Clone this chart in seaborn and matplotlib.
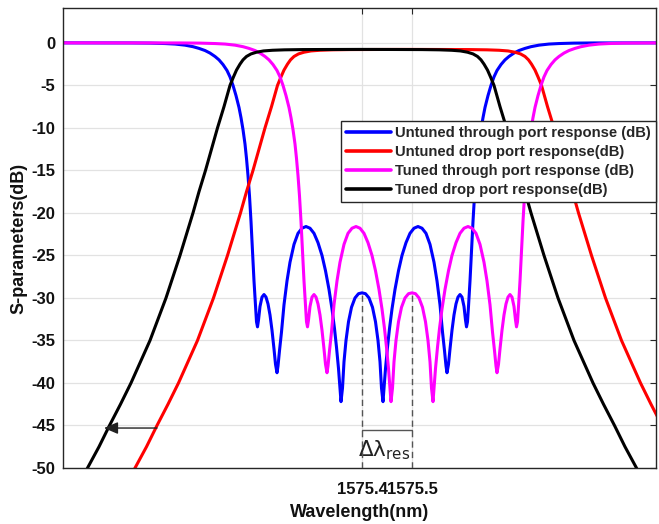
import matplotlib
matplotlib.use("Agg")
import matplotlib.pyplot as plt
import seaborn as sns
import numpy as np

# ---------------- data ----------------
# Through-port response (dB), same shape for untuned and tuned through ports
through_db = [
    0.0, 0.0, -0.01, -0.03, -0.08, -0.14, -0.27, -0.45, -0.65, -0.9,
    -1.2, -1.6, -2.0, -2.55, -3.25, -4.0, -5.0, -6.2, -7.6, -8.8,
    -10.2, -11.9, -13.6, -15.6, -18.0, -21.0, -24.5, -28.0, -31.0, -32.8,
    -33.4, -32.6, -31.0, -29.9, -29.6, -29.9, -30.7, -32.0, -33.8, -36.0,
    -37.8, -38.8, -38.0, -36.2, -34.0, -30.8, -28.0, -25.8, -23.7, -22.4,
    -21.8, -21.6, -21.8, -22.4, -23.5, -25.0, -26.8, -29.0, -31.3, -33.6,
    -35.8, -38.3, -40.6, -42.2, -40.6, -37.5, -35.0, -32.8, -31.1, -30.0,
    -29.5,
    -29.4,
    -29.5, -30.0, -31.1, -32.8, -35.0, -37.5, -40.6, -42.2, -40.6, -38.3,
    -35.8, -33.6, -31.3, -29.0, -26.8, -25.0, -23.5, -22.4, -21.8, -21.6,
    -21.8, -22.4, -23.7, -25.8, -28.0, -30.8, -34.0, -36.2, -38.0, -38.8,
    -37.8, -36.0, -33.8, -32.0, -30.7, -29.9, -29.6, -29.9, -31.0, -32.6,
    -33.4, -32.8, -31.0, -28.0, -24.5, -21.0, -18.0, -15.6, -13.6, -11.9,
    -10.2, -8.8, -7.6, -6.2, -5.0, -4.0, -3.25, -2.55, -2.0, -1.6,
    -1.2, -0.9, -0.65, -0.45, -0.27, -0.14, -0.08, -0.03, -0.01, 0.0,
    0.0,
]
wl_untuned_through = [
    1574.802, 1574.876, 1574.936, 1574.976, 1575.006, 1575.026, 1575.046, 1575.062, 1575.074, 1575.086,
    1575.096, 1575.106, 1575.114, 1575.122, 1575.130, 1575.136, 1575.142, 1575.148, 1575.154, 1575.158,
    1575.162, 1575.166, 1575.169, 1575.172, 1575.175, 1575.178, 1575.181, 1575.184, 1575.187, 1575.189,
    1575.191, 1575.193, 1575.196, 1575.200, 1575.204, 1575.208, 1575.212, 1575.216, 1575.220, 1575.224,
    1575.227, 1575.230, 1575.232, 1575.235, 1575.239, 1575.244, 1575.250, 1575.256, 1575.264, 1575.272,
    1575.280, 1575.288, 1575.296, 1575.304, 1575.312, 1575.320, 1575.327, 1575.334, 1575.340, 1575.345,
    1575.349, 1575.353, 1575.356, 1575.358, 1575.361, 1575.364, 1575.368, 1575.373, 1575.379, 1575.386,
    1575.393,
    1575.400,
    1575.407, 1575.414, 1575.421, 1575.427, 1575.432, 1575.436, 1575.439, 1575.442, 1575.444, 1575.447,
    1575.451, 1575.455, 1575.460, 1575.466, 1575.473, 1575.480, 1575.488, 1575.496, 1575.504, 1575.512,
    1575.520, 1575.528, 1575.536, 1575.544, 1575.550, 1575.556, 1575.561, 1575.565, 1575.568, 1575.570,
    1575.573, 1575.576, 1575.580, 1575.584, 1575.588, 1575.592, 1575.596, 1575.600, 1575.604, 1575.607,
    1575.609, 1575.611, 1575.613, 1575.616, 1575.619, 1575.622, 1575.625, 1575.628, 1575.631, 1575.634,
    1575.638, 1575.642, 1575.646, 1575.652, 1575.658, 1575.664, 1575.670, 1575.678, 1575.686, 1575.694,
    1575.704, 1575.714, 1575.726, 1575.738, 1575.754, 1575.774, 1575.794, 1575.824, 1575.864, 1575.924,
    1575.998,
]
wl_tuned_through = [
    1574.802, 1574.976, 1575.036, 1575.076, 1575.106, 1575.126, 1575.146, 1575.162, 1575.174, 1575.186,
    1575.196, 1575.206, 1575.214, 1575.222, 1575.230, 1575.236, 1575.242, 1575.248, 1575.254, 1575.258,
    1575.262, 1575.266, 1575.269, 1575.272, 1575.275, 1575.278, 1575.281, 1575.284, 1575.287, 1575.289,
    1575.291, 1575.293, 1575.296, 1575.300, 1575.304, 1575.308, 1575.312, 1575.316, 1575.320, 1575.324,
    1575.327, 1575.330, 1575.332, 1575.335, 1575.339, 1575.344, 1575.350, 1575.356, 1575.364, 1575.372,
    1575.380, 1575.388, 1575.396, 1575.404, 1575.412, 1575.420, 1575.427, 1575.434, 1575.440, 1575.445,
    1575.449, 1575.453, 1575.456, 1575.458, 1575.461, 1575.464, 1575.468, 1575.473, 1575.479, 1575.486,
    1575.493,
    1575.500,
    1575.507, 1575.514, 1575.521, 1575.527, 1575.532, 1575.536, 1575.539, 1575.542, 1575.544, 1575.547,
    1575.551, 1575.555, 1575.560, 1575.566, 1575.573, 1575.580, 1575.588, 1575.596, 1575.604, 1575.612,
    1575.620, 1575.628, 1575.636, 1575.644, 1575.650, 1575.656, 1575.661, 1575.665, 1575.668, 1575.670,
    1575.673, 1575.676, 1575.680, 1575.684, 1575.688, 1575.692, 1575.696, 1575.700, 1575.704, 1575.707,
    1575.709, 1575.711, 1575.713, 1575.716, 1575.719, 1575.722, 1575.725, 1575.728, 1575.731, 1575.734,
    1575.738, 1575.742, 1575.746, 1575.752, 1575.758, 1575.764, 1575.770, 1575.778, 1575.786, 1575.794,
    1575.804, 1575.814, 1575.826, 1575.838, 1575.854, 1575.874, 1575.894, 1575.924, 1575.964, 1576.024,
    1576.098,
]

# Drop-port response (dB), same shape for untuned and tuned drop ports
drop_db = [
    -52.5, -50.0, -47.5, -45.0, -42.5, -40.0, -37.5, -35.0, -32.5, -30.0,
    -27.5, -25.0, -22.5, -20.0, -17.5, -15.0, -12.5, -10.0, -7.5, -5.0,
    -4.0, -3.2, -2.5, -2.0, -1.6, -1.3, -1.1, -0.95, -0.87, -0.82,
    -0.79, -0.78,
    -0.77,
    -0.78, -0.79,
    -0.82, -0.87, -0.95, -1.1, -1.3, -1.6, -2.0, -2.5, -3.2, -4.0,
    -5.0, -7.5, -10.0, -12.5, -15.0, -17.5, -20.0, -22.5, -25.0, -27.5,
    -30.0, -32.5, -35.0, -37.5, -40.0, -42.5, -45.0, -47.5, -50.0, -52.5,
]
wl_untuned_drop = [
    1574.924, 1574.946, 1574.969, 1574.990, 1575.012, 1575.033, 1575.052, 1575.071, 1575.087, 1575.103,
    1575.117, 1575.131, 1575.144, 1575.157, 1575.169, 1575.182, 1575.194, 1575.206, 1575.219, 1575.231,
    1575.238, 1575.244, 1575.251, 1575.257, 1575.264, 1575.273, 1575.284, 1575.298, 1575.316, 1575.340,
    1575.376, 1575.426,
    1575.495,
    1575.564, 1575.614,
    1575.650, 1575.674, 1575.692, 1575.706, 1575.717, 1575.726, 1575.733, 1575.739, 1575.746, 1575.752,
    1575.759, 1575.771, 1575.784, 1575.796, 1575.808, 1575.821, 1575.833, 1575.846, 1575.859, 1575.873,
    1575.887, 1575.903, 1575.919, 1575.938, 1575.957, 1575.978, 1576.000, 1576.021, 1576.044, 1576.066,
]
wl_tuned_drop = [
    1574.829, 1574.851, 1574.874, 1574.895, 1574.917, 1574.938, 1574.957, 1574.976, 1574.992, 1575.008,
    1575.022, 1575.036, 1575.049, 1575.062, 1575.074, 1575.087, 1575.099, 1575.111, 1575.124, 1575.136,
    1575.143, 1575.149, 1575.156, 1575.162, 1575.169, 1575.178, 1575.189, 1575.203, 1575.221, 1575.245,
    1575.281, 1575.331,
    1575.400,
    1575.469, 1575.519,
    1575.555, 1575.579, 1575.597, 1575.611, 1575.622, 1575.631, 1575.638, 1575.644, 1575.651, 1575.657,
    1575.664, 1575.676, 1575.689, 1575.701, 1575.713, 1575.726, 1575.738, 1575.751, 1575.764, 1575.778,
    1575.792, 1575.808, 1575.824, 1575.843, 1575.862, 1575.883, 1575.905, 1575.926, 1575.949, 1575.971,
]

series_labels = [
    "Untuned through port response (dB)",
    "Untuned drop port response(dB)",
    "Tuned through port response (dB)",
    "Tuned drop port response(dB)",
]
x_ticks = [1575.4, 1575.5]
x_tick_labels = ["1575.4", "1575.5"]
y_ticks = [-50, -45, -40, -35, -30, -25, -20, -15, -10, -5, 0]
y_tick_labels = ["-50", "-45", "-40", "-35", "-30", "-25", "-20", "-15", "-10", "-5", "0"]

# annotation values
res_marker_wl = [1575.4, 1575.5]      # two adjacent resonances (delta lambda)
res_marker_top_db = -29.4
bracket_db = -45.5
shift_arrow_db = -45.3
shift_arrow_from_wl = 1574.990
shift_arrow_to_wl = 1574.884

# ---------------- styling ----------------
sns.set_theme(style="whitegrid")
plt.rcParams["font.family"] = ["Liberation Sans", "DejaVu Sans"]
plt.rcParams["axes.unicode_minus"] = False

fig = plt.figure(figsize=(6.59, 5.24), dpi=100)
fig.patch.set_facecolor("white")
ax = fig.add_axes([63 / 659, 1 - 468 / 524, 593 / 659, 460 / 524])
ax.set_facecolor("white")

lw = 2.2
sns.lineplot(x=wl_untuned_through, y=through_db, color="#0000ff", linewidth=lw,
             label=series_labels[0], ax=ax, sort=False, estimator=None)
sns.lineplot(x=wl_untuned_drop, y=drop_db, color="#ff0000", linewidth=lw,
             label=series_labels[1], ax=ax, sort=False, estimator=None)
sns.lineplot(x=wl_tuned_through, y=through_db, color="#ff00ff", linewidth=lw,
             label=series_labels[2], ax=ax, sort=False, estimator=None)
sns.lineplot(x=wl_tuned_drop, y=drop_db, color="#000000", linewidth=lw,
             label=series_labels[3], ax=ax, sort=False, estimator=None)
for ln in ax.get_lines():
    ln.set_solid_joinstyle("round")
    ln.set_solid_capstyle("round")

ax.set_xlim(1574.802, 1575.988)
ax.set_ylim(-50, 4.1)

# dashed markers of the two resonances and the bracket
ax.vlines(res_marker_wl, -50, res_marker_top_db, colors="#555555", linewidth=1.0,
          linestyles=(0, (4.5, 3)), zorder=5)
ax.plot(res_marker_wl, [bracket_db, bracket_db], color="#555555", linewidth=1.0, zorder=5)
ax.text(np.mean(res_marker_wl) - 0.005, -48.6, r"$\Delta\mathrm{\lambda}_{\mathrm{res}}$",
        ha="center", va="baseline", fontsize=15.5, color="#222222")

# arrow from untuned drop to tuned drop
ax.annotate("", xy=(shift_arrow_to_wl, shift_arrow_db), xytext=(shift_arrow_from_wl, shift_arrow_db),
            arrowprops=dict(arrowstyle="-|>,head_length=0.7,head_width=0.3",
                            color="#222222", lw=1.0, shrinkA=0, shrinkB=0),
            zorder=6)

# ticks and grid
ax.set_xticks(x_ticks)
ax.set_xticklabels(x_tick_labels)
ax.set_yticks(y_ticks)
ax.set_yticklabels(y_tick_labels)
ax.tick_params(axis="both", which="major", direction="in", length=4, width=0.8,
               color="#262626", labelsize=12, top=True, right=True,
               labelcolor="#111111")
ax.tick_params(axis="x", pad=10)
ax.tick_params(axis="y", pad=5.5)
for lab in ax.get_xticklabels() + ax.get_yticklabels():
    lab.set_fontweight("bold")

ax.grid(True, color="#e2e2e2", linewidth=0.9)
for sp in ax.spines.values():
    sp.set_visible(True)
    sp.set_color("#262626")
    sp.set_linewidth(1.0)

ax.set_xlabel("Wavelength(nm)", fontsize=13, fontweight="bold", color="#111111", labelpad=5)
ax.set_ylabel("S-parameters(dB)", fontsize=13, fontweight="bold", color="#111111", labelpad=3)

leg = ax.legend(loc="upper right", bbox_to_anchor=(1.0, 0.754), fontsize=10.6,
                frameon=True, fancybox=False, edgecolor="#262626", framealpha=1,
                borderaxespad=0, handlelength=3.1, handletextpad=0.25,
                labelspacing=0.33, borderpad=0.35)
leg.get_frame().set_linewidth(1.0)
for t in leg.get_texts():
    t.set_fontweight("bold")
for h in leg.get_lines():
    h.set_linewidth(2.6)

fig.savefig("out.png", dpi=100, facecolor="white")
